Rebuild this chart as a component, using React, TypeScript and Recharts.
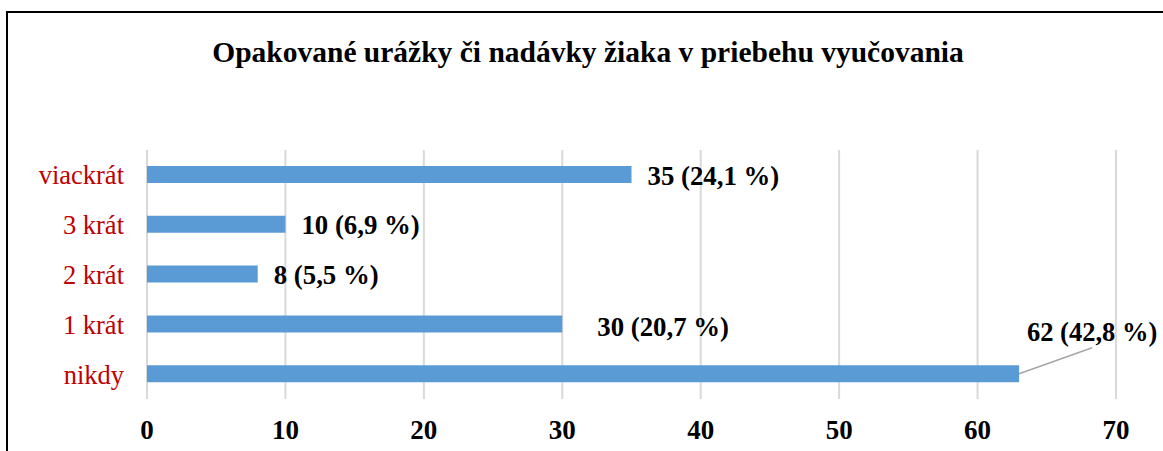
import React from 'react';
import { BarChart, Bar, XAxis, YAxis, CartesianGrid, LabelList } from 'recharts';

const categories = ['viackrát', '3 krát', '2 krát', '1 krát', 'nikdy'];
const counts = [35, 10, 8, 30, 63];
const labels = ['35 (24,1 %)', '10 (6,9 %)', '8 (5,5 %)', '30 (20,7 %)', '62 (42,8 %)'];
const xTicks = [0, 10, 20, 30, 40, 50, 60, 70];

const chartData = categories.map((name, i) => ({ name, count: counts[i], label: labels[i] }));

const SERIF = '"Liberation Serif", "Times New Roman", serif';

const BarLabel = (props: any) => {
  const { x, y, width, height, index } = props;
  const text = labels[index];
  const endX = x + width;
  const midY = y + height / 2;
  if (index === categories.length - 1) {
    // biggest bar gets its label pulled up-right with a leader line
    const lx = endX + 73;
    const ly = midY - 26;
    return (
      <g>
        <line x1={endX} y1={midY} x2={lx} y2={ly} stroke="#a6a6a6" strokeWidth={1.5} />
        <text x={lx} y={ly - 16} textAnchor="middle" dominantBaseline="central"
          fontFamily={SERIF} fontWeight="bold" fontSize={26.5} fill="#000">{text}</text>
      </g>
    );
  }
  const dx = index === 3 ? 35 : 16;
  const dy = index === 3 ? 3 : 1;
  return (
    <text x={endX + dx} y={midY + dy} dominantBaseline="central"
      fontFamily={SERIF} fontWeight="bold" fontSize={26.8} fill="#000">{text}</text>
  );
};

export default function App() {
  return (
    <div style={{ position: 'fixed', left: 0, top: 0, width: 1163, height: 451, overflow: 'hidden', background: '#fff' }}>
      <div style={{
        position: 'absolute', left: 6, top: 11, width: 1300, height: 600,
        borderTop: '2px solid #000', borderLeft: '2px solid #000',
      }} />
      <div style={{
        position: 'absolute', left: 0, top: 34, width: 1176, textAlign: 'center',
        fontFamily: SERIF, fontWeight: 'bold', fontSize: 29.5, color: '#000', lineHeight: '36px',
      }}>
        Opakované urážky či nadávky žiaka v priebehu vyučovania
      </div>
      <div style={{ position: 'absolute', left: 0, top: 0 }}>
        <BarChart
          width={1163}
          height={451}
          data={chartData}
          layout="vertical"
          margin={{ top: 150, right: 47, left: 0, bottom: 0 }}
          barSize={17}
        >
          <CartesianGrid horizontal={false} stroke="#d9d9d9" strokeWidth={2} />
          <XAxis
            type="number"
            domain={[0, 70]}
            ticks={xTicks}
            interval={0}
            axisLine={false}
            tickLine={false}
            tickSize={0}
            tickMargin={21}
            height={52}
            tick={{ fontFamily: SERIF, fontWeight: 'bold', fontSize: 27, fill: '#000' }}
          />
          <YAxis
            type="category"
            dataKey="name"
            width={147}
            axisLine={false}
            tickLine={false}
            tickSize={0}
            tickMargin={23}
            tick={{ fontFamily: SERIF, fontSize: 26.5, fill: '#c00000' }}
          />
          <Bar dataKey="count" fill="#5b9bd5" isAnimationActive={false}>
            <LabelList dataKey="label" content={<BarLabel />} />
          </Bar>
        </BarChart>
      </div>
    </div>
  );
}
